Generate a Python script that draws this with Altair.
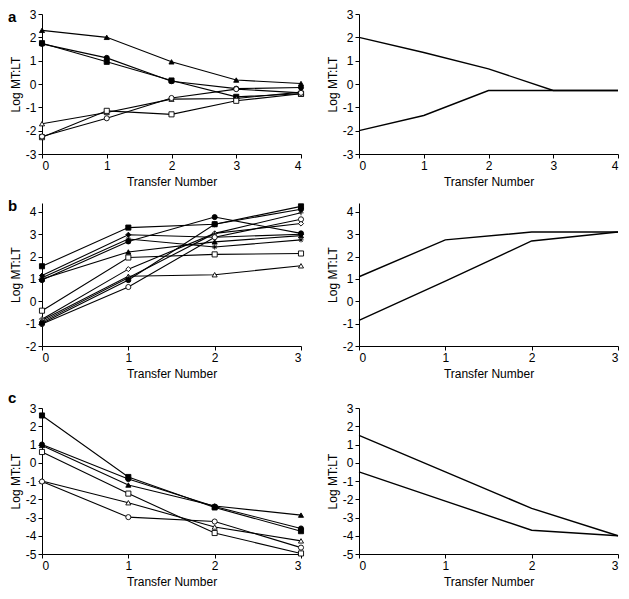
import altair as alt
import pandas as pd

FONT = "Liberation Sans"

# ---------------- data ----------------
X_A = [0, 1, 2, 3, 4]
A_TRI_F = [2.30, 2.00, 0.95, 0.17, 0.02]
A_SQ_F = [1.75, 0.95, 0.15, -0.55, -0.42]
A_CIRC_F = [1.72, 1.12, 0.12, -0.20, -0.15]
A_TRI_O = [-1.70, -1.22, -0.65, -0.62, -0.35]
A_SQ_O = [-2.28, -1.15, -1.30, -0.72, -0.42]
A_CIRC_O = [-2.25, -1.47, -0.60, -0.22, -0.38]
A_UPPER = [2.00, 1.35, 0.65, -0.28, -0.28]
A_LOWER = [-2.00, -1.35, -0.28, -0.28, -0.28]

X_B = [0, 1, 2, 3]
B_SQ_F = [1.57, 3.30, 3.45, 4.25]
B_DIA_F = [1.15, 2.98, 2.87, 3.00]
B_AST = [1.05, 2.79, 2.43, 2.75]
B_CIRC_F = [0.95, 2.68, 3.77, 3.04]
B_TRI_F = [1.00, 2.21, 2.66, 2.94]
B_SQ_O = [-0.42, 1.96, 2.10, 2.14]
B_DIA_O = [-0.80, 1.44, 3.04, 3.48]
B_TRI_O = [-0.85, 1.12, 1.19, 1.59]
B_PLUS = [-0.92, 1.05, 3.04, 3.96]
B_CIRC_O = [-1.02, 0.64, 2.87, 3.67]
B_CIRC_S = [-0.98, 0.95, 3.45, 4.12]
B_UPPER = [1.10, 2.75, 3.10, 3.10]
B_LOWER = [-0.85, 0.90, 2.70, 3.10]

X_C = [0, 1, 2, 3]
C_SQ_F = [2.59, -0.78, -2.45, -3.75]
C_CIRC_F = [1.00, -0.89, -2.40, -3.60]
C_TRI_F = [0.95, -1.22, -2.37, -2.87]
C_SQ_O = [0.59, -1.69, -3.85, -4.97]
C_TRI_O = [-1.00, -2.19, -3.52, -4.28]
C_CIRC_O = [-1.03, -2.98, -3.22, -4.65]
C_UPPER = [1.50, -0.50, -2.50, -4.00]
C_LOWER = [-0.50, -2.10, -3.70, -4.00]

# marker styles: (shape, fill)
ASTERISK = "M-1,0L1,0M0,-1L0,1M-0.7,-0.7L0.7,0.7M-0.7,0.7L0.7,-0.7"
PLUS = "M-1,0L1,0M0,-1L0,1"
MARKERS = {
    "sq_f": ("square", "black"),
    "circ_f": ("circle", "black"),
    "tri_f": ("triangle-up", "black"),
    "dia_f": ("diamond", "black"),
    "sq_o": ("square", "white"),
    "circ_o": ("circle", "white"),
    "tri_o": ("triangle-up", "white"),
    "dia_o": ("diamond", "white"),
    "ast": (ASTERISK, "white"),
    "plus": (PLUS, "white"),
    "circ_s": ("circle", "black"),
}

PANEL_A = [("tri_f", A_TRI_F), ("sq_f", A_SQ_F), ("circ_f", A_CIRC_F),
           ("tri_o", A_TRI_O), ("sq_o", A_SQ_O), ("circ_o", A_CIRC_O)]
PANEL_B = [("sq_f", B_SQ_F), ("dia_f", B_DIA_F), ("ast", B_AST), ("circ_f", B_CIRC_F),
           ("tri_f", B_TRI_F), ("sq_o", B_SQ_O), ("dia_o", B_DIA_O), ("tri_o", B_TRI_O),
           ("plus", B_PLUS), ("circ_o", B_CIRC_O), ("circ_s", B_CIRC_S)]
PANEL_C = [("sq_f", C_SQ_F), ("circ_f", C_CIRC_F), ("tri_f", C_TRI_F),
           ("sq_o", C_SQ_O), ("tri_o", C_TRI_O), ("circ_o", C_CIRC_O)]

W = 259


def make_df(xs, series):
    rows = []
    for i, (key, ys) in enumerate(series):
        shape, fill = MARKERS.get(key, ("circle", "black"))
        for x, y in zip(xs, ys):
            rows.append({"s": f"{key}_{i}", "t": x, "v": y, "shape": shape, "fill": fill})
    return pd.DataFrame(rows)


def encodings(xs, ydom, yvals):
    x = alt.X("t:Q", scale=alt.Scale(domain=[xs[0], xs[-1]], nice=False, zero=False),
              axis=alt.Axis(values=xs, title="Transfer Number", labelExpr="'' + datum.value"))
    y = alt.Y("v:Q", scale=alt.Scale(domain=ydom, nice=False, zero=False),
              axis=alt.Axis(values=yvals, title="Log MT:LT", titlePadding=3,
                            labelExpr="'' + datum.value"))
    return x, y


def left_panel(xs, series, ydom, yvals, h, label, label_y):
    df = make_df(xs, series)
    x, y = encodings(xs, ydom, yvals)
    base = alt.Chart(df).encode(x=x, y=y)
    lines = base.mark_line(color="black", strokeWidth=1.1).encode(detail="s:N")
    pts = base.mark_point(filled=True, size=26, stroke="black", strokeWidth=0.9, opacity=1).encode(
        shape=alt.Shape("shape:N", scale=None), fill=alt.Fill("fill:N", scale=None))
    lab = alt.Chart(pd.DataFrame({"l": [label]})).mark_text(
        font=FONT, fontWeight="bold", fontSize=15, align="left", baseline="middle", color="black"
    ).encode(text="l:N", x=alt.value(-34), y=alt.value(label_y))
    return alt.layer(lines, pts, lab).properties(width=W, height=h)


def right_panel(xs, series, ydom, yvals, h):
    df = make_df(xs, series)
    x, y = encodings(xs, ydom, yvals)
    return alt.Chart(df).mark_line(color="black", strokeWidth=1.4).encode(
        x=x, y=y, detail="s:N").properties(width=W, height=h)


row_a = alt.hconcat(
    left_panel(X_A, PANEL_A, [-3, 3], [-3, -2, -1, 0, 1, 2, 3], 140, "a", 3),
    right_panel(X_A, [("u", A_UPPER), ("l", A_LOWER)], [-3, 3], [-3, -2, -1, 0, 1, 2, 3], 140),
    spacing=20)
row_b = alt.hconcat(
    left_panel(X_B, PANEL_B, [-2, 4.4], [-2, -1, 0, 1, 2, 3, 4], 143, "b", 3),
    right_panel(X_B, [("u", B_UPPER), ("l", B_LOWER)], [-2, 4.4], [-2, -1, 0, 1, 2, 3, 4], 143),
    spacing=20)
row_c = alt.hconcat(
    left_panel(X_C, PANEL_C, [-5, 3], [-5, -4, -3, -2, -1, 0, 1, 2, 3], 146, "c", -10),
    right_panel(X_C, [("u", C_UPPER), ("l", C_LOWER)], [-5, 3], [-5, -4, -3, -2, -1, 0, 1, 2, 3], 146),
    spacing=20)

chart = alt.vconcat(row_a, row_b, row_c, spacing=12).properties(padding=0).configure_axis(
    labelFont=FONT, titleFont=FONT, labelFontSize=12, titleFontSize=12,
    titleFontWeight="normal", domainColor="black", tickColor="black",
    labelColor="black", titleColor="black", grid=False, tickSize=4,
    labelPadding=2, titlePadding=5, domainWidth=1
).configure_view(stroke=None)

chart.save("out.html", embed_options={"renderer": "svg", "actions": False})
